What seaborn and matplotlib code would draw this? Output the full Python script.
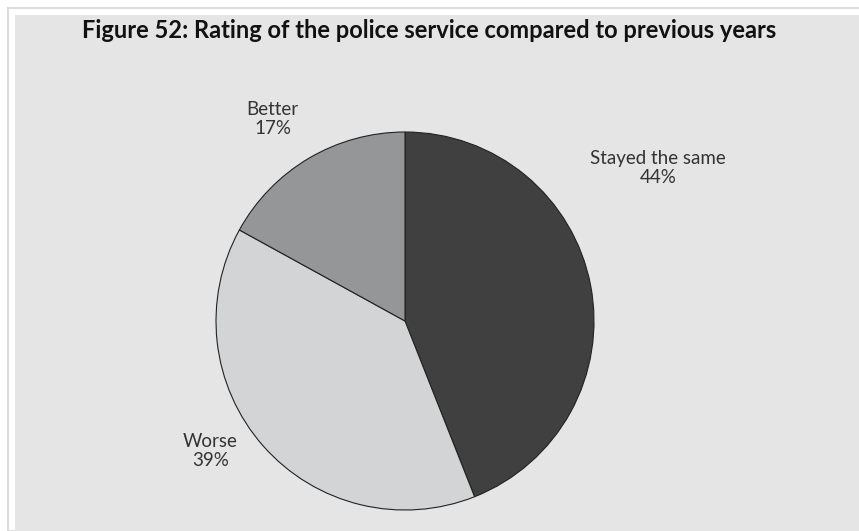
import matplotlib
matplotlib.use("Agg")
import matplotlib.pyplot as plt
import seaborn as sns
from matplotlib.patches import Rectangle

# data
categories = ["Stayed the same", "Worse", "Better"]
shares = [44, 39, 17]
slice_colors = ["#404040", "#d3d4d6", "#959698"]

sns.set_theme(style="white")
plt.rcParams['font.family'] = ['Lato', 'DejaVu Sans']

fig = plt.figure(figsize=(8.59, 5.31), dpi=100, facecolor="white")

# grey panel with the thin frame round it
fig.patches.append(Rectangle((8 / 859, 0), 1, 1 - 8 / 531, transform=fig.transFigure,
                             facecolor="white", edgecolor="#dcdcdc", linewidth=1.5, zorder=-2))
fig.patches.append(Rectangle((15 / 859, 0), 1, 1 - 15 / 531, transform=fig.transFigure,
                             facecolor="#e5e5e5", edgecolor="none", zorder=-1))

fig.text(0.5, 1 - 31 / 531, "Figure 52: Rating of the police service compared to previous years",
         ha="center", va="center", fontsize=17, fontweight="bold", color="#111111")

ax = fig.add_axes([(405 - 189) / 859, 21 / 531, 378 / 859, 378 / 531])
ax.set_zorder(5)
ax.patch.set_visible(False)
labels = [f"{c}\n{v}%" for c, v in zip(categories, shares)]
wedges, texts = ax.pie(shares, labels=labels, colors=slice_colors, startangle=90,
                       counterclock=False,
                       wedgeprops=dict(edgecolor="#222222", linewidth=0.8),
                       textprops=dict(fontsize=13.5, color="#333333", ha="center", va="center",
                                      linespacing=1.15))
label_pos = [(1.34, 0.81), (-1.03, -0.69), (-0.70, 1.07)]
for t, p in zip(texts, label_pos):
    t.set_position(p)
    t.set_ha("center")
    t.set_va("center")
ax.set_xlim(-1, 1)
ax.set_ylim(-1, 1)
ax.set_aspect("equal")
ax.axis("off")

fig.savefig("out.png", dpi=100, facecolor="white")
